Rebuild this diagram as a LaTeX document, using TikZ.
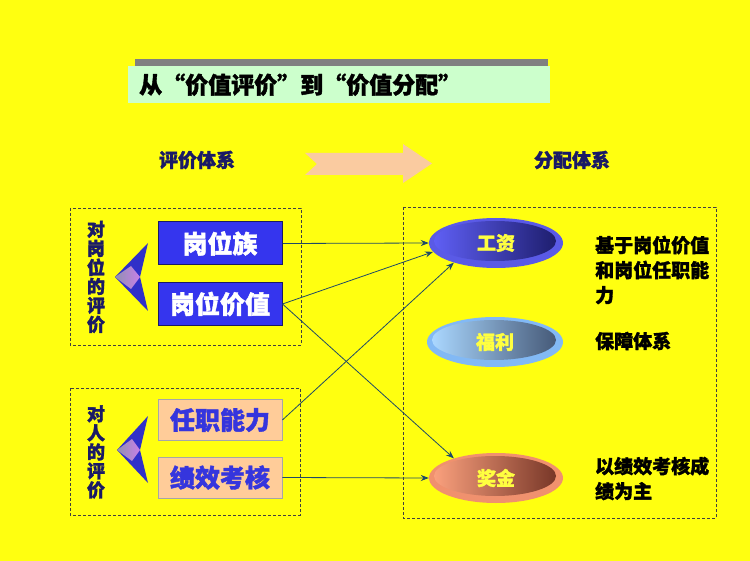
\documentclass[tikz,border=0pt]{standalone}
\usepackage{fontspec}
\setmainfont{Noto Sans CJK SC}[BoldFeatures={FakeBold=1.6}]
\usetikzlibrary{shapes.geometric,arrows.meta}
\definecolor{bgy}{HTML}{FFFF10}
\definecolor{titlegreen}{HTML}{CCFFCC}
\definecolor{shadowgray}{HTML}{808080}
\definecolor{navy}{HTML}{1A1A66}
\definecolor{boxblue}{HTML}{3535EE}
\definecolor{peach}{HTML}{FFCC99}
\definecolor{peachtext}{HTML}{3535DD}
\definecolor{arrowpeach}{HTML}{FACBA0}
\definecolor{conncol}{HTML}{1F4A66}
\definecolor{ellyellow}{HTML}{FFFF40}
\definecolor{wingblue}{HTML}{3030C8}
\definecolor{hlgray}{HTML}{9090B0}
\definecolor{hlpink}{HTML}{C880E8}
\begin{document}
\begin{tikzpicture}[x=1pt,y=-1pt,
  dbox/.style={draw=black!75, densely dashed, line width=0.6pt},
  bluebox/.style={rectangle, draw=navy, line width=1pt, fill=boxblue, text=white,
    minimum width=124pt, minimum height=43pt, inner sep=0pt,
    font=\fontsize{25}{27}\selectfont\bfseries},
  peachbox/.style={rectangle, draw=black!35, line width=0.8pt, fill=peach, text=peachtext,
    minimum width=124pt, minimum height=41pt, inner sep=0pt,
    font=\fontsize{25}{27}\selectfont\bfseries},
  vlabel/.style={align=center, text=navy, inner sep=0pt,
    font=\fontsize{18}{19}\selectfont\bfseries},
  hlabel/.style={text=navy, inner sep=0pt, font=\fontsize{19}{21}\selectfont\bfseries},
  elltext/.style={ellipse, minimum width=134pt, minimum height=50pt, inner sep=0pt,
    text=ellyellow, font=\fontsize{19}{21}\selectfont\bfseries},
  rtext/.style={anchor=west, align=left, text=black, inner sep=0pt,
    font=\fontsize{19}{25}\selectfont\bfseries},
  conn/.style={draw=conncol, line width=0.8pt, -{Stealth[length=8pt,width=6pt]}},
  wing/.style={fill=wingblue}
]
\fill[bgy] (0,0) rectangle (750,561);
\useasboundingbox (0,0) rectangle (750,561);

% title
\fill[shadowgray] (135,59) rectangle (548,100);
\node[anchor=north west, fill=titlegreen, minimum width=413pt, minimum height=37pt,
  text width=400pt, align=left, inner sep=0pt, inner xsep=11pt,
  font=\fontsize{23}{26}\selectfont\bfseries] (title) at (128,66) {从“价值评价”到“价值分配”};

% headers
\node[hlabel] (pjtx) at (197,160) {评价体系};
\node[hlabel] (fptx) at (572,160) {分配体系};
\fill[arrowpeach] (305,153) -- (403,153) -- (403,144) -- (432,163.5) -- (403,183)
  -- (403,175) -- (305,175) -- (317,164) -- cycle;

% dashed frames
\draw[dbox] (70,208) rectangle (301,345);
\draw[dbox] (70,388) rectangle (300,515);
\draw[dbox] (403,207) rectangle (716,518);

% vertical labels
\node[vlabel] (dgw) at (96,277) {对\\岗\\位\\的\\评\\价};
\node[vlabel] (dr) at (96,452) {对\\人\\的\\评\\价};

% arrowheads (left)
\fill[wing] (115,277) -- (148,243) -- (140,277) -- (148,311) -- cycle;
\shade[left color=hlgray, right color=hlpink] (115,277) -- (131,266) -- (140,277) -- (131,289) -- cycle;
\fill[wing] (117,450) -- (148,416) -- (140,450) -- (148,483) -- cycle;
\shade[left color=hlgray, right color=hlpink] (117,450) -- (132,439) -- (140,450) -- (132,461) -- cycle;

% left boxes
\node[bluebox] (gwz) at (220,243.5) {岗位族};
\node[bluebox] (gwjz) at (220,304) {岗位价值};
\node[peachbox] (rznl) at (220,420) {任职能力};
\node[peachbox] (jxkh) at (220,477.5) {绩效考核};

% ellipses
\fill[color={rgb,255:red,90;green,90;blue,230}] (496,243) ellipse (67 and 25);
\shade[left color={rgb,255:red,95;green,95;blue,245}, right color={rgb,255:red,30;green,30;blue,110}] (495,241) ellipse (61 and 20);
\node[elltext] (gz) at (496,243) {工资};

\fill[color={rgb,255:red,130;green,185;blue,245}] (495,342) ellipse (68 and 25);
\shade[left color={rgb,255:red,170;green,215;blue,255}, right color={rgb,255:red,70;green,90;blue,120}] (494,340) ellipse (62 and 20);
\node[elltext] (fl) at (495,342) {福利};

\fill[color={rgb,255:red,240;green,145;blue,110}] (496,478) ellipse (67 and 25);
\shade[left color={rgb,255:red,250;green,160;blue,125}, right color={rgb,255:red,120;green,55;blue,40}] (495,476) ellipse (61 and 20);
\node[elltext] (jj) at (496,478) {奖金};

% right texts
\node[rtext] (t1) at (595,270) {基于岗位价值\\和岗位任职能\\力};
\node[rtext] (t2) at (595,341) {保障体系};
\node[rtext] (t3) at (595,478.5) {以绩效考核成\\绩为主};

% connectors
\draw[conn] (gwz.east) -- (gz.west);
\draw[conn] (gwjz.east) -- (gz.188);
\draw[conn] (gwjz.east) -- (jj.155);
\draw[conn] (rznl.east) -- (gz.205);
\draw[conn] (jxkh.east) -- (jj.west);
\end{tikzpicture}
\end{document}
